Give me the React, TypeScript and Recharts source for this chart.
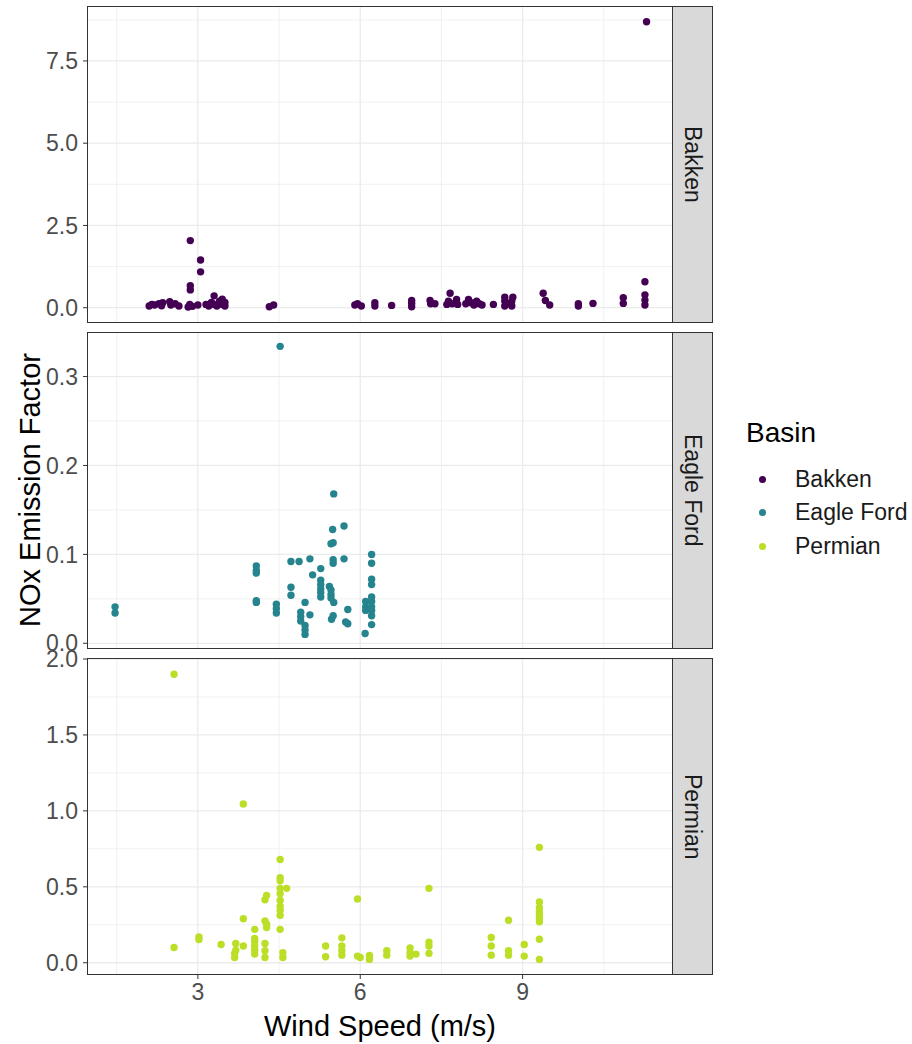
import { ScatterChart, Scatter, XAxis, YAxis, ReferenceLine } from 'recharts'

const FONT = '"Liberation Sans", Arial, Helvetica, sans-serif'

// Basins and their viridis colours
const basins = ['Bakken', 'Eagle Ford', 'Permian']
const basinColors = ['#440154', '#25848E', '#BBDF27']

// [wind speed (m/s), NOx emission factor]
const bakkenPoints: [number, number][] = [
  [2.1, 0.05], [2.15, 0.1], [2.2, 0.08], [2.28, 0.12], [2.33, 0.06], [2.35, 0.15],
  [2.48, 0.18], [2.5, 0.08], [2.58, 0.12], [2.65, 0.05], [2.82, 0.02], [2.85, 0.1],
  [2.86, 0.54], [2.86, 0.67], [2.86, 2.04], [2.9, 0.04], [3.0, 0.08], [3.05, 1.09],
  [3.05, 1.45], [3.15, 0.1], [3.2, 0.05], [3.25, 0.16], [3.3, 0.36], [3.3, 0.1],
  [3.35, 0.05], [3.4, 0.2], [3.45, 0.26], [3.45, 0.1], [3.5, 0.05], [3.5, 0.16],
  [4.32, 0.03], [4.4, 0.08],
  [5.9, 0.08], [5.95, 0.12], [6.02, 0.05], [6.27, 0.05], [6.27, 0.15],
  [6.58, 0.07], [6.95, 0.03], [6.95, 0.13], [6.95, 0.22], [7.29, 0.22], [7.3, 0.12],
  [7.38, 0.12], [7.6, 0.1], [7.63, 0.2], [7.66, 0.44], [7.7, 0.12], [7.78, 0.25],
  [7.8, 0.1], [7.95, 0.12], [8.0, 0.25], [8.05, 0.15], [8.1, 0.08], [8.15, 0.2],
  [8.2, 0.12], [8.25, 0.08], [8.46, 0.1], [8.67, 0.05], [8.67, 0.2], [8.67, 0.32],
  [8.72, 0.12], [8.8, 0.05], [8.8, 0.2], [8.82, 0.32], [9.38, 0.44], [9.42, 0.22],
  [9.5, 0.08], [10.03, 0.05], [10.03, 0.12], [10.3, 0.13], [10.86, 0.13], [10.86, 0.3],
  [11.26, 0.08], [11.26, 0.23], [11.26, 0.39], [11.26, 0.79], [11.29, 8.69],
]

const eagleFordPoints: [number, number][] = [
  [1.47, 0.041], [1.47, 0.034],
  [4.08, 0.087], [4.08, 0.082], [4.08, 0.079], [4.08, 0.048], [4.08, 0.046],
  [4.45, 0.044], [4.45, 0.039], [4.45, 0.034], [4.52, 0.334],
  [4.72, 0.092], [4.72, 0.063], [4.72, 0.054], [4.87, 0.092],
  [4.9, 0.035], [4.9, 0.03], [4.9, 0.025], [4.98, 0.046], [4.98, 0.02], [4.98, 0.015],
  [4.98, 0.01], [5.07, 0.095], [5.07, 0.032], [5.12, 0.077],
  [5.27, 0.084], [5.27, 0.071], [5.27, 0.066], [5.27, 0.061], [5.27, 0.057], [5.27, 0.052],
  [5.43, 0.064], [5.46, 0.112], [5.46, 0.06], [5.46, 0.055], [5.46, 0.051], [5.47, 0.027],
  [5.49, 0.128], [5.5, 0.113], [5.5, 0.094], [5.5, 0.09], [5.51, 0.168], [5.51, 0.046],
  [5.5, 0.031], [5.7, 0.132], [5.7, 0.095], [5.73, 0.024], [5.77, 0.038], [5.77, 0.022],
  [6.09, 0.011], [6.1, 0.047], [6.1, 0.041], [6.1, 0.037],
  [6.21, 0.1], [6.21, 0.09], [6.21, 0.072], [6.21, 0.066], [6.21, 0.052], [6.21, 0.047],
  [6.21, 0.041], [6.21, 0.037], [6.21, 0.031], [6.21, 0.021],
]

const permianPoints: [number, number][] = [
  [2.56, 1.9], [2.56, 0.1], [3.02, 0.17], [3.02, 0.153], [3.43, 0.12],
  [3.7, 0.127], [3.7, 0.083], [3.68, 0.062], [3.68, 0.035], [3.84, 1.045], [3.84, 0.29],
  [3.84, 0.11], [4.05, 0.22], [4.05, 0.16], [4.05, 0.14], [4.05, 0.11], [4.05, 0.083],
  [4.05, 0.057], [4.24, 0.415], [4.27, 0.444], [4.24, 0.275], [4.27, 0.254], [4.27, 0.232],
  [4.24, 0.127], [4.24, 0.079], [4.24, 0.035],
  [4.52, 0.68], [4.52, 0.56], [4.52, 0.54], [4.52, 0.49], [4.52, 0.455], [4.52, 0.41],
  [4.52, 0.37], [4.52, 0.345], [4.52, 0.313], [4.52, 0.22], [4.64, 0.49],
  [4.57, 0.066], [4.57, 0.035],
  [5.36, 0.11], [5.36, 0.04], [5.66, 0.164], [5.66, 0.11], [5.66, 0.079], [5.66, 0.05],
  [5.95, 0.42], [5.95, 0.044], [6.0, 0.035], [6.17, 0.048], [6.17, 0.022],
  [6.49, 0.079], [6.49, 0.05], [6.92, 0.098], [6.92, 0.066], [6.92, 0.044], [7.03, 0.057],
  [7.27, 0.49], [7.27, 0.136], [7.27, 0.11], [7.27, 0.062],
  [8.42, 0.166], [8.42, 0.11], [8.42, 0.05], [8.74, 0.28], [8.74, 0.079], [8.74, 0.05],
  [9.03, 0.12], [9.03, 0.044], [9.31, 0.76], [9.31, 0.4], [9.31, 0.363], [9.31, 0.334],
  [9.31, 0.313], [9.31, 0.29], [9.31, 0.27], [9.31, 0.155], [9.31, 0.022],
]

const basinPoints = [bakkenPoints, eagleFordPoints, permianPoints]

// axes
const xDomain = [0.97, 11.76]
const xTicks = [3, 6, 9]
const xMinor = [1.5, 4.5, 7.5, 10.5]

const yDomains = [[-0.435, 9.14], [-0.0053, 0.349], [-0.074, 2.0]]
const yTicks = [[0, 2.5, 5, 7.5], [0, 0.1, 0.2, 0.3], [0, 0.5, 1, 1.5, 2]]
const yMinor = [[1.25, 3.75, 6.25, 8.75], [0.05, 0.15, 0.25], [0.25, 0.75, 1.25, 1.75]]

const panelTops = [7, 333, 659]
const PANEL_LEFT = 88
const PANEL_RIGHT = 672
const PANEL_H = 315
const PAD = 12
const STRIP_W = 41

const tickStyle = { fill: '#4D4D4D', fontSize: 23, fontFamily: FONT }
const grid = '#EBEBEB'

const Panel = ({ idx }: { idx: number }) => {
  const color = basinColors[idx]
  const data = basinPoints[idx].map(([wind, nox]) => ({ wind, nox }))
  const showX = idx === 2
  const top = panelTops[idx]
  return (
    <>
      <div style={{ position: 'absolute', left: 0, top: top - PAD }}>
        <ScatterChart
          width={PANEL_RIGHT}
          height={PANEL_H + PAD * 2 + (showX ? 56 : 0)}
          margin={{ top: PAD, right: 0, bottom: PAD, left: 0 }}
          style={{ overflow: 'visible' }}
        >
          <XAxis
            type="number"
            dataKey="wind"
            domain={xDomain}
            ticks={xTicks}
            allowDataOverflow
            hide={!showX}
            height={56}
            axisLine={false}
            tickSize={5}
            tickMargin={5}
            tickLine={{ stroke: '#333333' }}
            tick={tickStyle}
            interval={0}
          />
          <YAxis
            type="number"
            dataKey="nox"
            domain={yDomains[idx]}
            ticks={yTicks[idx]}
            allowDataOverflow
            width={PANEL_LEFT}
            axisLine={false}
            tickSize={5}
            tickMargin={5}
            tickLine={{ stroke: '#333333' }}
            tick={tickStyle}
            interval={0}
            tickFormatter={(v: number) => v.toFixed(1)}
          />
          {xMinor.map((v) => (
            <ReferenceLine key={`xm${v}`} x={v} stroke={grid} strokeWidth={0.7} />
          ))}
          {yMinor[idx].map((v) => (
            <ReferenceLine key={`ym${v}`} y={v} stroke={grid} strokeWidth={0.7} />
          ))}
          {xTicks.map((v) => (
            <ReferenceLine key={`x${v}`} x={v} stroke={grid} strokeWidth={1.3} />
          ))}
          {yTicks[idx].map((v) => (
            <ReferenceLine key={`y${v}`} y={v} stroke={grid} strokeWidth={1.3} />
          ))}
          <Scatter
            name={basins[idx]}
            data={data}
            isAnimationActive={false}
            shape={(p: any) => <circle cx={p.cx} cy={p.cy} r={3.7} fill={color} />}
          />
        </ScatterChart>
      </div>
      {/* panel border */}
      <div
        style={{
          position: 'absolute',
          left: PANEL_LEFT - 1,
          top: top - 1,
          width: PANEL_RIGHT - PANEL_LEFT + 2,
          height: PANEL_H + 2,
          border: '1.5px solid #333333',
          boxSizing: 'border-box',
          pointerEvents: 'none',
        }}
      />
      {/* facet strip */}
      <div
        style={{
          position: 'absolute',
          left: PANEL_RIGHT,
          top: top - 1,
          width: STRIP_W,
          height: PANEL_H + 2,
          background: '#D9D9D9',
          border: '1.5px solid #333333',
          boxSizing: 'border-box',
          display: 'flex',
          alignItems: 'center',
          justifyContent: 'center',
        }}
      >
        <span
          style={{
            writingMode: 'vertical-rl',
            fontFamily: FONT,
            fontSize: 23,
            color: '#1A1A1A',
          }}
        >
          {basins[idx]}
        </span>
      </div>
    </>
  )
}

export default function App() {
  return (
    <div
      style={{
        position: 'absolute',
        left: 0,
        top: 0,
        width: 912,
        height: 1044,
        background: '#FFFFFF',
        fontFamily: FONT,
        overflow: 'hidden',
      }}
    >
      {basins.map((b, i) => (
        <Panel key={b} idx={i} />
      ))}

      {/* y title */}
      <div
        style={{
          position: 'absolute',
          left: 30 - 200,
          top: 490 - 17,
          width: 400,
          height: 34,
          lineHeight: '34px',
          textAlign: 'center',
          fontSize: 29,
          color: '#000000',
          transform: 'rotate(-90deg)',
        }}
      >
        NOx Emission Factor
      </div>

      {/* x title */}
      <div
        style={{
          position: 'absolute',
          left: PANEL_LEFT,
          width: PANEL_RIGHT - PANEL_LEFT,
          top: 1009,
          height: 34,
          lineHeight: '34px',
          textAlign: 'center',
          fontSize: 29,
          color: '#000000',
        }}
      >
        Wind Speed (m/s)
      </div>

      {/* legend */}
      <div style={{ position: 'absolute', left: 746, top: 417, fontSize: 28, lineHeight: '32px', color: '#000' }}>
        Basin
      </div>
      {basins.map((b, i) => (
        <div
          key={b}
          style={{
            position: 'absolute',
            left: 752,
            top: 463 + i * 33.5,
            height: 32,
            display: 'flex',
            alignItems: 'center',
          }}
        >
          <span
            style={{
              width: 7,
              height: 7,
              borderRadius: '50%',
              background: basinColors[i],
              marginLeft: 7,
              marginRight: 29,
            }}
          />
          <span style={{ fontSize: 23, color: '#1A1A1A' }}>{b}</span>
        </div>
      ))}
    </div>
  )
}
